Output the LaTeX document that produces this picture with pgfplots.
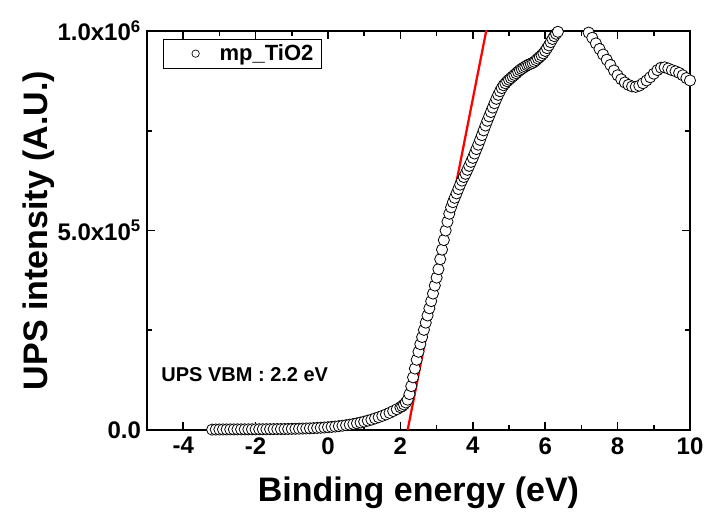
\documentclass[border=0pt]{standalone}
\usepackage{fontspec}
\setmainfont{Liberation Sans}
\usepackage{pgfplots}
\pgfplotsset{compat=1.18}
\pgfplotstableread{
x y
-3.2 1000
-3.1 1200
-3.0 1300
-2.9 1400
-2.8 1400
-2.7 1500
-2.6 1500
-2.5 1600
-2.4 1600
-2.3 1700
-2.2 1700
-2.1 1800
-2.0 1800
-1.9 1900
-1.8 1900
-1.7 2000
-1.6 2100
-1.5 2200
-1.4 2300
-1.3 2400
-1.2 2500
-1.1 2700
-1.0 2900
-0.9 3100
-0.8 3300
-0.7 3600
-0.6 3900
-0.5 4300
-0.4 4700
-0.3 5200
-0.2 5700
-0.1 6300
0.0 7000
0.1 7800
0.2 8700
0.3 9700
0.4 10800
0.5 12000
0.6 13400
0.7 15000
0.8 16800
0.9 18800
1.0 21000
1.1 23500
1.2 26000
1.3 29000
1.4 32000
1.5 35500
1.6 39000
1.7 43000
1.8 47500
1.9 52000
2.0 57000
2.05 60000
2.1 64000
2.15 69000
2.2 76000
2.25 90000
2.3 110000
2.35 132000
2.4 154000
2.45 176000
2.5 196000
2.55 215000
2.6 233000
2.65 251000
2.7 269000
2.75 287000
2.8 305000
2.85 323000
2.9 342000
2.95 362000
3.0 382000
3.05 403000
3.1 428000
3.15 452000
3.2 476000
3.25 500000
3.3 522000
3.35 542000
3.4 558000
3.45 571000
3.5 582000
3.55 593000
3.6 604000
3.65 615000
3.7 625000
3.75 634000
3.8 642000
3.85 652000
3.9 662000
3.95 672000
4.0 682000
4.05 693000
4.1 704000
4.15 715000
4.2 727000
4.25 739000
4.3 751000
4.35 763000
4.4 775000
4.45 786000
4.5 797000
4.55 808000
4.6 819000
4.65 830000
4.7 840000
4.75 849000
4.8 857000
4.85 864000
4.9 869000
4.95 874000
5.0 878000
5.05 882000
5.1 886000
5.15 890000
5.2 894000
5.25 898000
5.3 902000
5.35 905000
5.4 908000
5.45 911000
5.5 914000
5.55 916000
5.6 918000
5.65 920000
5.7 923000
5.75 927000
5.8 931000
5.85 935000
5.9 939000
5.95 944000
6.0 950000
6.05 957000
6.1 964000
6.15 972000
6.2 980000
6.25 987000
6.3 993000
6.35 998000
6.4 1002000
6.5 1015000
6.6 1030000
6.7 1040000
6.8 1045000
6.9 1040000
7.0 1030000
7.1 1012000
7.2 996000
7.3 983000
7.4 969000
7.5 955000
7.6 941000
7.7 928000
7.8 915000
7.9 901000
8.0 889000
8.1 879000
8.2 871000
8.3 865000
8.4 861000
8.5 860000
8.6 863000
8.7 869000
8.8 876000
8.9 884000
9.0 893000
9.1 902000
9.2 908000
9.3 909000
9.4 906000
9.5 902000
9.6 899000
9.7 895000
9.8 889000
9.9 882000
10.0 876000
}\upsdata
\begin{document}
\begin{tikzpicture}
\useasboundingbox (-110.25pt,-63pt) rectangle (418.5pt,322.5pt);
\begin{axis}[
  scale only axis,
  width=407.25pt, height=299.25pt,
  xmin=-5, xmax=10, ymin=0, ymax=1000000,
  axis line style={line width=1.8pt},
  every tick/.style={black, line width=1.2pt},
  tick align=inside,
  major tick length=6pt, minor tick length=3.5pt,
  xtick={-4,-2,0,2,4,6,8,10},
  xticklabels={-4,-2,0,2,4,6,8,10},
  minor xtick={-5,-3,-1,1,3,5,7,9},
  ytick={0,500000,1000000},
  yticklabels={0.0,5.0x10\textsuperscript{5},1.0x10\textsuperscript{6}},
  minor ytick={250000,750000},
  scaled ticks=false,
  ticklabel style={font=\fontsize{18}{18}\selectfont\bfseries},
  xticklabel style={yshift=-2pt},
  yticklabel style={xshift=-1pt},
  xlabel={Binding energy (eV)},
  ylabel={UPS intensity (A.U.)},
  label style={font=\fontsize{25.5}{25.5}\selectfont\bfseries},
  xlabel style={at={(axis description cs:0.5,-0.158)}, anchor=center},
  ylabel style={at={(axis description cs:-0.2,0.5)}, anchor=center},
  legend style={at={(axis description cs:0.03,0.98)}, anchor=north west,
    draw=black, line width=0.5pt, font=\fontsize{16.5}{16.5}\selectfont\bfseries,
    inner xsep=4pt, inner ysep=2pt},
  legend cell align=left,
]
\addplot[only marks, mark=*, mark size=4.2pt,
  mark options={fill=white, draw=black, line width=0.6pt},
  legend image code/.code={
    \draw[draw=none] (0pt,0pt) -- (36pt,0pt);
    \draw[black, line width=0.5pt, fill=white] (20pt,0pt) circle (2.8pt);
  }] table[x=x,y=y] {\upsdata};
\addlegendentry{mp\_TiO2}
\addplot[red, line width=1.7pt, forget plot] coordinates {(2.2,0) (4.45,1037000)};
\node[anchor=center, font=\fontsize{15}{15}\selectfont\bfseries] at (axis cs:-2.3,138000) {UPS VBM : 2.2 eV};
\end{axis}
\end{tikzpicture}
\end{document}
